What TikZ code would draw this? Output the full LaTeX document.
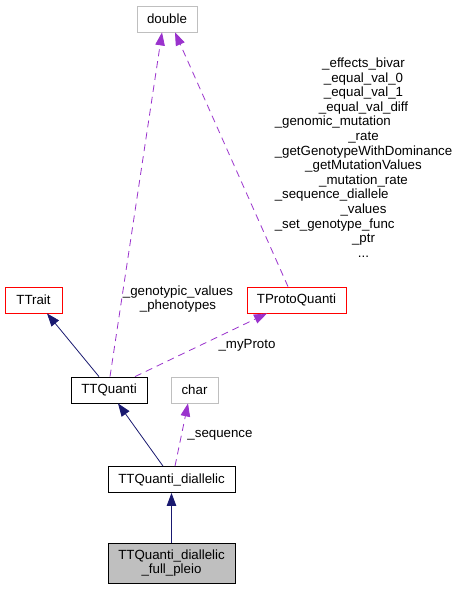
\documentclass[tikz,border=0pt]{standalone}
\usepackage{fontspec}
\setmainfont{Liberation Sans}
\usetikzlibrary{arrows.meta,calc}
\definecolor{edgeblue}{HTML}{191970}
\definecolor{edgepurple}{HTML}{9A32CD}
\definecolor{greyborder}{HTML}{BFBFBF}
\definecolor{boxgrey}{HTML}{BFBFBF}
\begin{document}
\begin{tikzpicture}[x=1pt,y=-1pt,
  font=\fontsize{13.3}{14.6}\selectfont,
  box/.style={draw, line width=0.8pt, minimum height=26pt, inner sep=0pt, fill=white},
  inh/.style={draw=edgeblue, line width=0.8pt, -{Triangle[length=13pt,width=9.5pt]}},
  use/.style={draw=edgepurple, line width=0.8pt, dash pattern=on 7pt off 5pt, -{Triangle[length=13pt,width=9.5pt]}},
  lbl/.style={inner sep=0pt, align=center}]
\useasboundingbox[fill=white] (0,0) rectangle (456,589);
\node[box, draw=greyborder, minimum width=60pt] (double) at (167,19) {double};
\node[box, draw=red, minimum width=57pt] (ttrait) at (33.5,300) {TTrait};
\node[box, draw=red, minimum width=99pt] (tproto) at (296.5,300) {TProtoQuanti};
\node[box, draw=black, minimum width=76pt] (ttquanti) at (109,390) {TTQuanti};
\node[box, draw=greyborder, minimum width=47pt] (char) at (194.5,390) {char};
\node[box, draw=black, minimum width=127pt] (dia) at (171.5,479.5) {TTQuanti\_diallelic};
\node[box, draw=black, fill=boxgrey, minimum width=127pt, minimum height=40pt, align=center] (pleio) at (171.5,563) {TTQuanti\_diallelic\\\_full\_pleio};

\draw[use] ([xshift=1pt]ttquanti.north) -- ([xshift=-5pt]double.south);
\draw[use] ([xshift=-8.5pt]tproto.north) -- ([xshift=8pt]double.south);
\draw[use] ([xshift=26pt]ttquanti.north) -- ([xshift=-29.5pt]tproto.south);
\draw[inh] ([xshift=-10pt]ttquanti.north) -- ([xshift=13.5pt]ttrait.south);
\draw[inh] ([xshift=-8.5pt]dia.north) -- ([xshift=9pt]ttquanti.south);
\draw[use] ([xshift=3.5pt]dia.north) -- ([xshift=-6.5pt]char.south);
\draw[inh] (pleio.north) -- (dia.south);

\node[lbl] (lgen) at (178,299) {\_genotypic\_values\\\_phenotypes};
\node[lbl] (lproto) at (247,345) {\_myProto};
\node[lbl] (lseq) at (220,435) {\_sequence};
\node[inner sep=0pt, anchor=base] (lmembers) at (363.5,67.5) {\begin{tabular}[t]{@{}c@{}}
\_effects\_bivar\\
\_equal\_val\_0\\
\_equal\_val\_1\\
\_equal\_val\_diff\\
\multicolumn{1}{@{}l@{}}{\_genomic\_mutation}\\
\_rate\\
\_getGenotypeWithDominance\\
\_getMutationValues\\
\_mutation\_rate\\
\multicolumn{1}{@{}l@{}}{\_sequence\_diallele}\\
\_values\\
\multicolumn{1}{@{}l@{}}{\_set\_genotype\_func}\\
\_ptr\\
...
\end{tabular}};
\end{tikzpicture}
\end{document}
